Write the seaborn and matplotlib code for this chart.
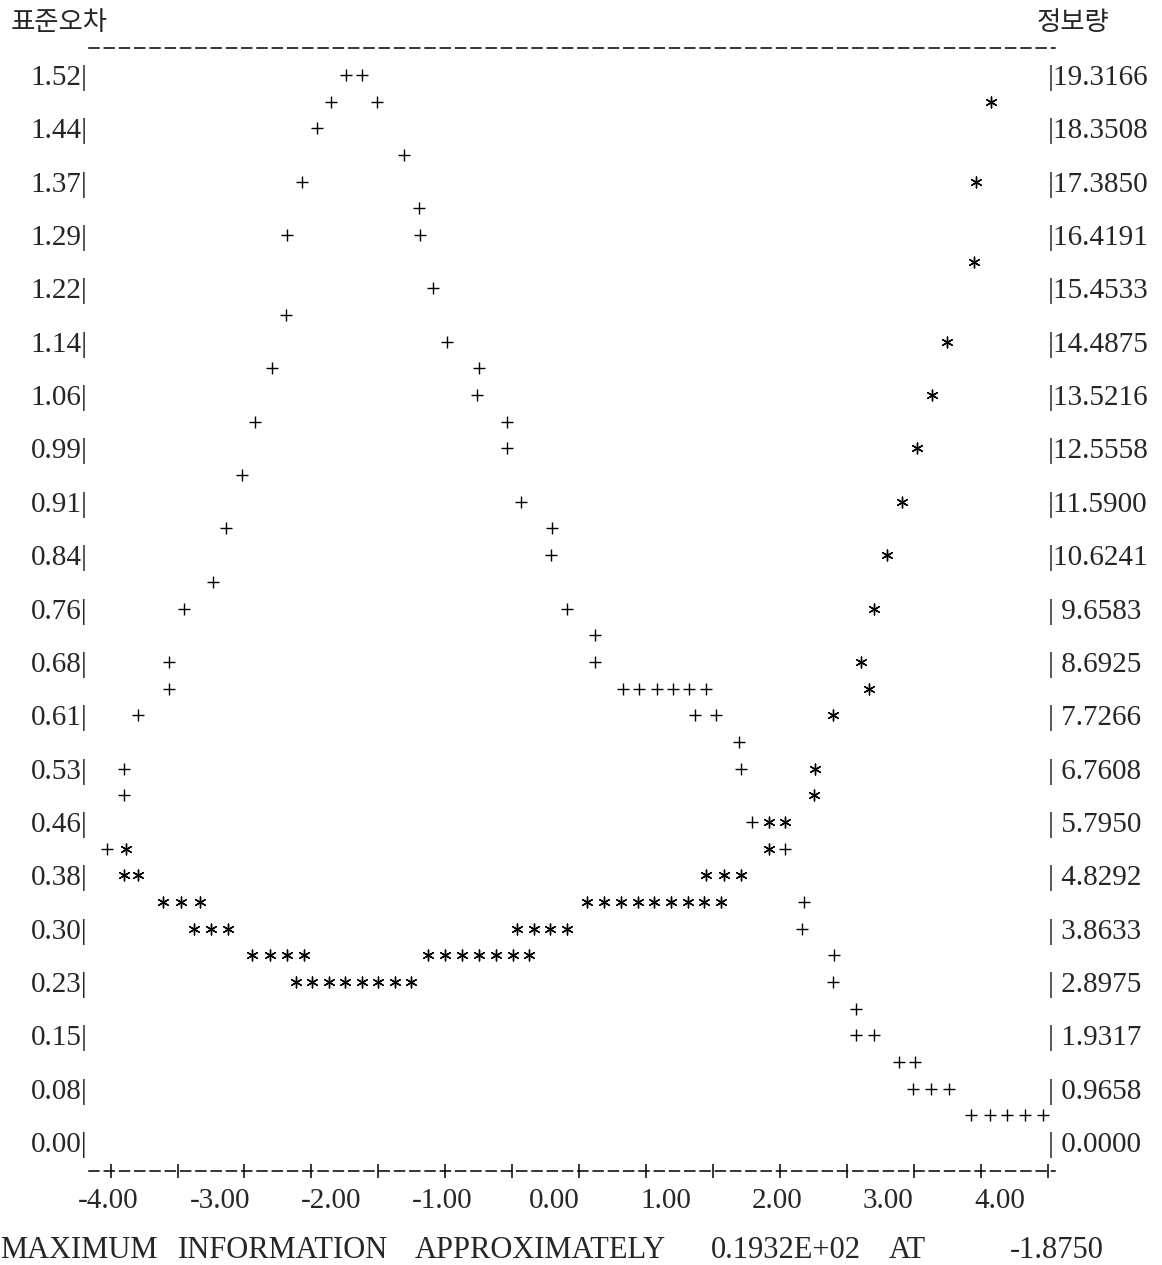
import numpy as np
import matplotlib
matplotlib.use("Agg")
import matplotlib.pyplot as plt
import seaborn as sns

# 정보량 곡선 (+) : 능력 수준(theta)과 정보량
info_theta = [
    -1.87, -1.72,
    -2.00, -1.59,
    -2.13,
    -1.35,
    -2.26,
    -1.21,
    -2.40, -1.20,
    -1.09,
    -2.41,
    -0.96,
    -2.53, -0.67,
    -0.69,
    -2.68, -0.42,
    -0.42,
    -2.80,
    -0.30,
    -2.94, -0.02,
    -0.03,
    -3.06,
    -3.32, 0.12,
    0.37,
    -3.46, 0.37,
    -3.46, 0.62, 0.76, 0.92, 1.07, 1.21, 1.36,
    -3.73, 1.27, 1.45,
    1.66,
    -3.86, 1.68,
    -3.86,
    1.78,
    -4.01, 2.07,
    2.24,
    2.23,
    2.51,
    2.50,
    2.71,
    2.71, 2.87,
    3.10, 3.24,
    3.22, 3.38, 3.55,
    3.74, 3.91, 4.07, 4.23, 4.39,
]
info_value = [
    19.317, 19.317,
    18.834, 18.834,
    18.351,
    17.868,
    17.385,
    16.902,
    16.419, 16.419,
    15.453,
    14.971,
    14.488,
    14.005, 14.005,
    13.522,
    13.039, 13.039,
    12.556,
    12.073,
    11.590,
    11.107, 11.107,
    10.624,
    10.141,
    9.658, 9.658,
    9.175,
    8.693, 8.693,
    8.210, 8.210, 8.210, 8.210, 8.210, 8.210, 8.210,
    7.727, 7.727, 7.727,
    7.244,
    6.761, 6.761,
    6.278,
    5.795,
    5.312, 5.312,
    4.346,
    3.863,
    3.380,
    2.898,
    2.415,
    1.932, 1.932,
    1.449, 1.449,
    0.966, 0.966, 0.966,
    0.483, 0.483, 0.483, 0.483, 0.483,
]

# 표준오차 곡선 (*)
se_theta = [
    3.92,
    3.79,
    3.77,
    3.53,
    3.39,
    3.26,
    3.12,
    2.99,
    2.87,
    2.76,
    2.83,
    2.50,
    2.34,
    2.33,
    1.93, 2.07,
    -3.84, 1.93,
    -3.86, -3.73, 1.36, 1.53, 1.68,
    -3.51, -3.35, -3.18, 0.30, 0.45, 0.60, 0.75, 0.90, 1.05, 1.20, 1.35, 1.50,
    -3.23, -3.08, -2.93, -0.33, -0.18, -0.04, 0.12,
    -2.71, -2.55, -2.40, -2.24, -1.13, -0.98, -0.83, -0.67, -0.52, -0.37, -0.22,
    -2.32, -2.17, -2.02, -1.88, -1.72, -1.58, -1.43, -1.28,
]
se_value = [
    1.482,
    1.368,
    1.254,
    1.140,
    1.064,
    0.988,
    0.912,
    0.836,
    0.760,
    0.684,
    0.646,
    0.608,
    0.532,
    0.494,
    0.456, 0.456,
    0.418, 0.418,
    0.380, 0.380, 0.380, 0.380, 0.380,
    0.342, 0.342, 0.342, 0.342, 0.342, 0.342, 0.342, 0.342, 0.342, 0.342, 0.342, 0.342,
    0.304, 0.304, 0.304, 0.304, 0.304, 0.304, 0.304,
    0.266, 0.266, 0.266, 0.266, 0.266, 0.266, 0.266, 0.266, 0.266, 0.266, 0.266,
    0.228, 0.228, 0.228, 0.228, 0.228, 0.228, 0.228, 0.228,
]

se_labels = ["0.00", "0.08", "0.15", "0.23", "0.30", "0.38", "0.46", "0.53", "0.61", "0.68",
             "0.76", "0.84", "0.91", "0.99", "1.06", "1.14", "1.22", "1.29", "1.37", "1.44", "1.52"]
info_labels = ["0.0000", "0.9658", "1.9317", "2.8975", "3.8633", "4.8292", "5.7950", "6.7608",
               "7.7266", "8.6925", "9.6583", "10.6241", "11.5900", "12.5558", "13.5216",
               "14.4875", "15.4533", "16.4191", "17.3850", "18.3508", "19.3166"]
theta_labels = ["-4.00", "-3.00", "-2.00", "-1.00", "0.00", "1.00", "2.00", "3.00", "4.00"]

assert len(info_theta) == len(info_value)
assert len(se_theta) == len(se_value)

sns.set_style("white")
plt.rcParams["font.family"] = ["Liberation Serif", "Noto Sans CJK KR"]
plt.rcParams["axes.unicode_minus"] = False

W, H = 1162, 1265
fig = plt.figure(figsize=(W / 100, H / 100), dpi=100)
ax = fig.add_axes([89 / W, 1 - 1171 / H, (1055 - 89) / W, (1171 - 48) / H])
ax2 = ax.twinx()

sns.scatterplot(x=se_theta, y=se_value, ax=ax, marker=(6, 2, 0), s=60,
                color="black", linewidth=1.0)
sns.scatterplot(x=info_theta, y=info_value, ax=ax2, marker="+", s=70,
                color="black", linewidth=1.0)

se_lim = (-0.0413, 1.5585)
ratio = float(info_labels[-1]) / float(se_labels[-1])
ax.set_xlim(-4.174, 4.497)
ax.set_ylim(*se_lim)
ax2.set_ylim(se_lim[0] * ratio, se_lim[1] * ratio)

# 축 모양: 문자 그래프처럼 점선 테두리
for a in (ax, ax2):
    for side in ("left", "right", "top", "bottom"):
        a.spines[side].set_visible(False)
for side in ("top", "bottom"):
    ax.spines[side].set_visible(True)
    ax.spines[side].set_linestyle((0, (6.5, 3.5)))
    ax.spines[side].set_linewidth(1.1)
    ax.spines[side].set_color("black")

ax.set_yticks(np.linspace(0, 1.52, len(se_labels)))
ax.set_yticklabels([s + "|" for s in se_labels])
ax.tick_params(axis="y", length=0, pad=1, labelsize=21)

ax2.set_yticks([float(s) for s in info_labels])
ax2.set_yticklabels(["|" + s.rjust(7) for s in info_labels])
ax2.tick_params(axis="y", length=0, pad=-5, labelsize=21)

# x축: '+' 눈금은 보조 눈금, 라벨은 주 눈금
ax.set_xticks(range(-4, 5))
ax.set_xticklabels(theta_labels)
ax.set_xticks(np.linspace(-3.98, 4.43, 15), minor=True)
ax.tick_params(axis="x", which="both", bottom=True)
ax.tick_params(axis="x", which="major", length=0, pad=12, labelsize=21)
ax.tick_params(axis="x", which="minor", direction="inout", length=10, width=1.1, color="black")

ax.set_xlabel("")
ax.set_ylabel("")
ax2.set_ylabel("")

fig.text(11 / W, 1 - 23 / H, "표준오차", family=["Noto Sans CJK KR"], fontsize=19, va="center")
fig.text(1037 / W, 1 - 23 / H, "정보량", family=["Noto Sans CJK KR"], fontsize=19, va="center")

footer = [("MAXIMUM", 0), ("INFORMATION", 178), ("APPROXIMATELY", 415),
          ("0.1932E+02", 711), ("AT", 889), ("-1.8750", 1010)]
for word, x0 in footer:
    fig.text(x0 / W, 1 - 1250 / H, word, fontsize=22, va="center", ha="left")

fig.savefig("out.png", dpi=100)
